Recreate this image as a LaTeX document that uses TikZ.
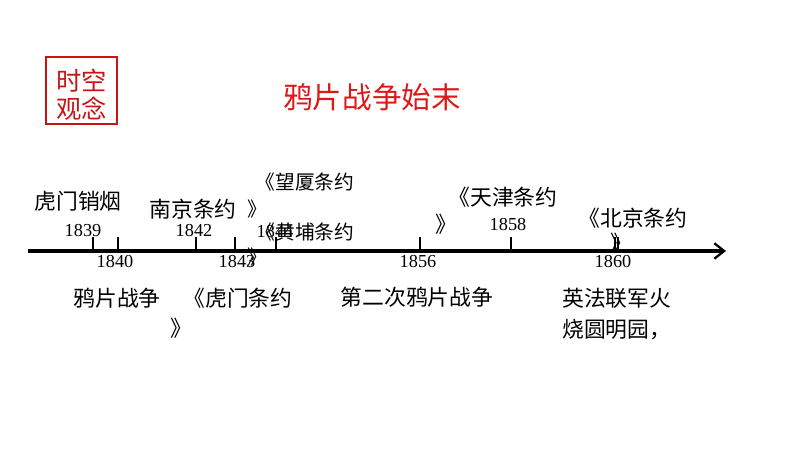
\documentclass[tikz,border=0pt]{standalone}
\usepackage{fontspec}
\setmainfont{Liberation Serif}
\newfontfamily\cjk{Noto Sans CJK SC}
\usetikzlibrary{arrows.meta,positioning}
\definecolor{boxred}{RGB}{200,20,20}
\definecolor{titlered}{RGB}{220,25,25}

\tikzset{
  yearlbl/.style={font=\fontsize{13pt}{15pt}\selectfont, inner sep=0pt},
  evtlbl/.style={font=\cjk\fontsize{15.5pt}{18pt}\selectfont, inner sep=0pt},
  smallevt/.style={evtlbl, font=\cjk\fontsize{14pt}{16pt}\selectfont},
  tickln/.style={line width=1.4pt},
}

\begin{document}
\begin{tikzpicture}[x=0.025cm,y=-0.025cm]
      \useasboundingbox (0,0) rectangle (794,453);

      % red box and title
      \draw[boxred,line width=1pt] (46,57) rectangle (117,124);
      \node[text=boxred,font=\cjk\fontsize{18pt}{21pt}\selectfont,align=center,inner sep=0pt]
            (tag) at (81.5,95) {时空\\[-1pt]观念};
      \node[text=titlered,font=\cjk\fontsize{21pt}{24pt}\selectfont,inner sep=0pt]
            (title) at (372,97) {鸦片战争始末};

      % axis
      \coordinate (start) at (28,251);
      \coordinate (end) at (726,251);
      \draw[line width=2.2pt,-{Straight Barb[length=7pt,width=11pt,line width=1.6pt]}] (start) -- (end);

      % ticks
      \foreach \yr/\x in {1839/93,1840/118,1842/196,1843/235,1844/276,1856/420,1858/511,1860/615}
        \draw[tickln] (\x,237) coordinate (t\yr) -- (\x,251);
      \draw[line width=1pt] (618,237) -- (618,251);

      % years
      \node[yearlbl] (y1839) at (83,231) {1839};
      \node[yearlbl] (y1840) at (115,262) {1840};
      \node[yearlbl] (y1842) at (194,231) {1842};
      \node[yearlbl] (y1843) at (237,262) {1843};
      \node[yearlbl] (y1844) at (275,232) {1844};
      \node[yearlbl] (y1856) at (418,262) {1856};
      \node[yearlbl] (y1858) at (508,225) {1858};
      \node[yearlbl] (y1860) at (613,262) {1860};

      % events above
      \node[evtlbl] (humen) at (78,201) {虎门销烟};
      \node[evtlbl] (nanjing) at (193,209) {南京条约};
      \node[smallevt] (wangxia) at (305,182) {《望厦条约};
      \node[smallevt] (wangxiaB) at (257,209) {》};
      \node[smallevt] (huangpu) at (305,232) {《黄埔条约};
      \node[smallevt] (huangpuB) at (257,257) {》};
      \node[evtlbl] (tianjin) at (503,197) {《天津条约};
      \node[evtlbl] (tianjinB) at (446,224) {》};
      \node[evtlbl] (beijing) at (633,218) {《北京条约};
      \node[evtlbl] (beijingB) at (621,243) {》};

      % events below
      \node[evtlbl] (yapian) at (117,298) {鸦片战争};
      \node[evtlbl] (humenty) at (238,298) {《虎门条约};
      \node[evtlbl] (humentyB) at (181,328) {》};
      \node[evtlbl] (dierci) at (417,297) {第二次鸦片战争};
      \node[evtlbl,anchor=west] (yingfa) at (562,298) {英法联军火};
      \node[evtlbl,anchor=west] (shao) at (562,330) {烧圆明园，};
    \end{tikzpicture}
\end{document}
